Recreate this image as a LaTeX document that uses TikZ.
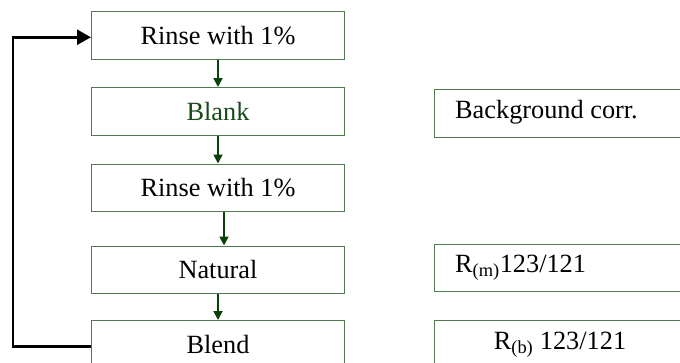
\documentclass[tikz,border=0pt]{standalone}
\usepackage{fontspec}
\setmainfont{Liberation Serif}
\usetikzlibrary{arrows.meta}
\definecolor{boxgreen}{HTML}{4E7A4E}
\definecolor{arrgreen}{HTML}{0A400A}
\definecolor{txtgreen}{HTML}{174A17}
\begin{document}
\begin{tikzpicture}[x=1pt,y=-1pt,
  stepbox/.style={draw=boxgreen,line width=1pt,rectangle,minimum width=253pt,minimum height=47.5pt,inner sep=0pt,anchor=north west,font=\fontsize{26.3}{30}\selectfont},
  flow/.style={draw=arrgreen,line width=1.8pt,-{Triangle[length=9pt,width=9pt]}},
  loop/.style={draw=black,line width=2.5pt,-{Triangle[length=14pt,width=15pt]}},
  lbl/.style={font=\fontsize{26.3}{30}\selectfont,inner sep=0pt}]
\useasboundingbox (0,0) rectangle (680,362);
\node[stepbox] (r1) at (91,11) {Rinse with 1\%};
\node[stepbox,text=txtgreen] (bl) at (91,87) {Blank};
\node[stepbox] (r2) at (91,163.5) {Rinse with 1\%};
\node[stepbox] (nat) at (91,245.5) {Natural};
\node[stepbox] (ble) at (91,320) {Blend};
\node[stepbox] (bg) at (434,89) {};
\node[stepbox] (rm) at (434,243.5) {};
\node[stepbox] (rb) at (434,320) {};
\node[lbl,anchor=west] (bgt) at (455,112.5) {Background corr.};
\node[lbl,anchor=west] (rmt) at (455,267.5) {R\textsubscript{(m)}123/121};
\node[lbl] (rbt) at (560,344.5) {R\textsubscript{(b)} 123/121};
\draw[flow] (r1.south) -- (bl.north);
\draw[flow] (bl.south) -- (r2.north);
\draw[flow] ([xshift=6pt]r2.south) -- ([xshift=6pt]nat.north);
\draw[flow] (nat.south) -- (ble.north);
\draw[loop] ([yshift=-2pt]ble.west) -- ++(-78,0) |- ([yshift=-2pt]r1.west);
\end{tikzpicture}
\end{document}
